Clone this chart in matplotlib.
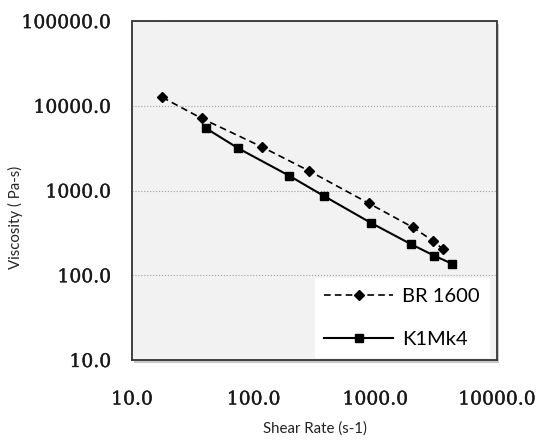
import matplotlib.pyplot as plt
import matplotlib.patheffects as pe
from matplotlib.patches import Rectangle
from matplotlib.ticker import FixedLocator, FixedFormatter

# -------------------------------
# DATA
# -------------------------------
br_rate = [17.7, 37.4, 116, 284, 885, 2030, 2960, 3610]
br_visc = [12600, 7100, 3290, 1710, 706, 368, 256, 202]

k1_rate = [40.6, 74.7, 195, 378, 915, 1950, 3050, 4260]
k1_visc = [5420, 3150, 1500, 861, 417, 234, 170, 137]

x_ticks = [10, 100, 1000, 10000]
x_labels = ["10.0", "100.0", "1000.0", "10000.0"]
y_ticks = [10, 100, 1000, 10000, 100000]
y_labels = ["10.0", "100.0", "1000.0", "10000.0", "100000.0"]

fig = plt.figure(figsize=(5.36, 4.43), dpi=100)
ax = fig.add_axes([0.2463, 0.1874, 0.681, 0.765])

# little drop shadow behind the plot area
shadow = Rectangle((0.2463 + 0.004, 0.1874 - 0.006), 0.681, 0.765,
                   transform=fig.transFigure, facecolor="#c8c8c8",
                   edgecolor="none", zorder=-1)
fig.patches.append(shadow)

ax.set_facecolor("#f2f2f2")
ax.plot(br_rate, br_visc, color="black", linestyle=(0, (4, 2.5)), lw=1.2,
        marker="D", markersize=4.6, label="BR 1600")
ax.plot(k1_rate, k1_visc, color="black", linestyle="-", lw=1.5,
        marker="s", markersize=5.8, label="K1Mk4")

ax.set_xscale("log")
ax.set_yscale("log")
ax.set_xlim(10, 10000)
ax.set_ylim(10, 100000)

ax.xaxis.set_major_locator(FixedLocator(x_ticks))
ax.xaxis.set_major_formatter(FixedFormatter(x_labels))
ax.yaxis.set_major_locator(FixedLocator(y_ticks))
ax.yaxis.set_major_formatter(FixedFormatter(y_labels))
ax.xaxis.set_minor_locator(FixedLocator([]))
ax.yaxis.set_minor_locator(FixedLocator([]))

ax.tick_params(length=0, labelsize=13.5, pad=15)
ax.tick_params(axis="x", pad=22)
semi = [pe.withStroke(linewidth=0.25, foreground="#1a1a1a")]
for lab in ax.get_xticklabels() + ax.get_yticklabels():
    lab.set_fontfamily("DejaVu Serif")
    lab.set_color("#1a1a1a")
    lab.set_path_effects(semi)

ax.yaxis.grid(True, color="#a0a0a0", linestyle=":", lw=0.8)
ax.set_axisbelow(True)

for s in ax.spines.values():
    s.set_linestyle((0, (1, 1)))
    s.set_color("#333333")
    s.set_linewidth(1.3)

ax.set_xlabel("Shear Rate (s-1)", fontfamily="Lato", fontsize=10.8,
              color="#222222")
ax.xaxis.set_label_coords(0.5, -0.18)
ax.set_ylabel("Viscosity ( Pa-s)", fontfamily="Lato", fontsize=10.8,
              color="#222222")
ax.yaxis.set_label_coords(-0.3, 0.42)

leg = ax.legend(loc="lower right", bbox_to_anchor=(0.985, 0.0),
                frameon=True, fancybox=False,
                handlelength=3.4, handletextpad=0.45, borderaxespad=0.15,
                borderpad=0.45, labelspacing=1.3,
                prop={"family": "Lato", "size": 14.5})
leg.get_frame().set_facecolor("white")
leg.get_frame().set_edgecolor("white")
leg.get_frame().set_alpha(1)

fig.savefig("out.png", dpi=100)
